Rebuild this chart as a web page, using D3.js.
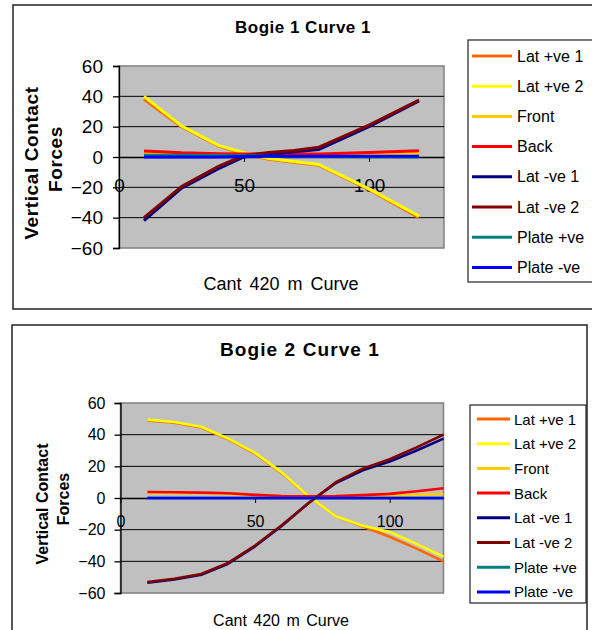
<!DOCTYPE html>
<html>
<head>
<meta charset="utf-8">
<script src="https://cdn.jsdelivr.net/npm/d3@7"></script>
<style>
  html, body { margin: 0; padding: 0; background: #fff; }
  svg { display: block; font-family: Arial, "Liberation Sans", sans-serif; }
</style>
</head>
<body>
<svg id="chart" width="592" height="630"></svg>
<script>
// ---------- data ----------
const seriesNames = ["Lat +ve 1", "Lat +ve 2", "Front", "Back", "Lat -ve 1", "Lat -ve 2", "Plate +ve", "Plate -ve"];
const seriesColors = ["#FF6600", "#FFFF00", "#FFCC00", "#FF0000", "#000080", "#800000", "#008080", "#0000FF"];
const yTicks = [-60, -40, -20, 0, 20, 40, 60];
const xTicks = [0, 50, 100];

// Bogie 1 Curve 1
const b1Title = "Bogie 1 Curve 1";
const b1X = [10, 25, 40, 50, 60, 70, 80, 100, 120];
const b1LatPos1 = [38, 20, 7, 2, -1.5, -3.5, -5.5, -21.5, -40];
const b1LatPos2 = [40, 20.5, 7.5, 2.8, -1, -3, -5, -21, -39];
const b1Front = [2.5, 2, 1.8, 1.6, 1.5, 1.5, 1.5, 2, 2.5];
const b1Back = [4, 2.8, 2.2, 2, 2, 2, 2, 3, 4.2];
const b1LatNeg1 = [-42, -20.5, -7.5, 0, 2, 3.5, 5, 20, 37];
const b1LatNeg2 = [-40, -19.5, -6, 1, 3, 4.3, 6.5, 21, 37.5];
const b1PlatePos = [1.2, 1.2, 1, 0.8, 0.5, 0.3, 0.3, 0.1, 0];
const b1PlateNeg = [0, 0, 0, 0.3, 0.5, 0.5, 0.5, 0.5, 0.5];

// Bogie 2 Curve 1
const b2Title = "Bogie 2 Curve 1";
const b2X = [10, 20, 30, 40, 50, 60, 70, 80, 90, 100, 110, 120];
const b2LatPos1 = [49, 47.5, 44.5, 37, 28, 15.5, 1, -11.5, -18, -24.5, -32, -40];
const b2LatPos2 = [49.5, 48, 45, 37.5, 28.5, 16, 1, -11.5, -17.5, -21.5, -29, -37];
const b2Front = [3, 3, 3, 2.5, 1.5, 1, 0.5, 0.5, 0.8, 1.2, 1.8, 2.5];
const b2Back = [3.8, 3.6, 3.4, 3, 2, 1.3, 1, 1.2, 1.8, 2.6, 4.3, 6.2];
const b2LatNeg1 = [-53.5, -51.5, -48.5, -41.5, -30.5, -17.5, -3, 9.5, 17.5, 23, 30, 37.5];
const b2LatNeg2 = [-53, -51, -48, -41, -30, -17, -3, 10, 18.5, 24.5, 32, 40];
const b2PlatePos = [0, 0, 0, 0, 0, 0, 0, 0, 0, 0, 0, 0];
const b2PlateNeg = [0, 0, 0, 0, 0, 0, 0, 0, 0, 0, 0, 0];

// ---------- drawing ----------
const svg = d3.select("#chart");

function drawChart(cfg) {
  const g = svg.append("g");
  // outer frame
  g.append("rect").attr("x", cfg.frame[0]).attr("y", cfg.frame[1])
    .attr("width", cfg.frame[2]).attr("height", cfg.frame[3])
    .attr("fill", "#fff").attr("stroke", "#222").attr("stroke-width", 1.5);

  const x = d3.scaleLinear().domain([0, cfg.xMax]).range([cfg.plot[0], cfg.plot[2]]);
  const y = d3.scaleLinear().domain([-60, 60]).range([cfg.plot[3], cfg.plot[1]]);

  // plot area
  g.append("rect").attr("x", cfg.plot[0]).attr("y", cfg.plot[1])
    .attr("width", cfg.plot[2] - cfg.plot[0]).attr("height", cfg.plot[3] - cfg.plot[1])
    .attr("fill", "#C0C0C0").attr("stroke", "#808080").attr("stroke-width", 1.5);

  // gridlines
  g.selectAll(".grid").data(yTicks.filter(t => t !== 60 && t !== -60 && t !== 0)).enter()
    .append("line")
    .attr("x1", cfg.plot[0]).attr("x2", cfg.plot[2])
    .attr("y1", d => y(d)).attr("y2", d => y(d))
    .attr("stroke", "#000").attr("stroke-width", 1);

  // y axis
  const yAxis = d3.axisLeft(y).tickValues(yTicks).tickSize(6).tickPadding(cfg.yPad);
  const ya = g.append("g").attr("transform", `translate(${cfg.plot[0]},0)`).call(yAxis);
  ya.select(".domain").attr("stroke", "#000").attr("stroke-width", 1.3);
  ya.selectAll(".tick line").attr("stroke", "#000").attr("stroke-width", 1.3);
  ya.selectAll("text").attr("font-size", cfg.tickFont).attr("fill", "#000")
    .attr("font-family", "Arial, 'Liberation Sans', sans-serif");

  // x axis along zero line
  const xAxis = d3.axisBottom(x).tickValues(xTicks).tickSize(5).tickPadding(cfg.xPad).tickSizeOuter(0);
  const xa = g.append("g").attr("transform", `translate(0,${y(0)})`).call(xAxis);
  xa.select(".domain").attr("stroke", "#000").attr("stroke-width", 1.3);
  xa.selectAll(".tick line").attr("stroke", "#000").attr("stroke-width", 1);
  xa.selectAll("text").attr("font-size", cfg.tickFont).attr("fill", "#000")
    .attr("font-family", "Arial, 'Liberation Sans', sans-serif");

  // series lines
  const line = d3.line().x(d => x(d[0])).y(d => y(d[1]));
  cfg.series.forEach((vals, i) => {
    const pts = cfg.xs.map((xv, j) => [xv, vals[j]]);
    g.append("path").datum(pts).attr("d", line)
      .attr("fill", "none").attr("stroke", seriesColors[i])
      .attr("stroke-width", cfg.lineW).attr("stroke-linejoin", "round");
  });

  // title
  g.append("text").attr("x", cfg.titlePos[0]).attr("y", cfg.titlePos[1])
    .attr("text-anchor", "middle").attr("font-weight", "bold")
    .attr("font-size", cfg.titleFont).attr("letter-spacing", cfg.titleLS)
    .text(cfg.title);

  // y title (two lines)
  g.append("text").attr("font-weight", "bold").attr("font-size", cfg.yTitleFont)
    .attr("letter-spacing", cfg.yTitleLS).attr("text-anchor", "middle")
    .attr("dominant-baseline", "central")
    .attr("transform", `translate(${cfg.yTitle1[0]},${cfg.yTitle1[1]}) rotate(-90)`)
    .text("Vertical Contact");
  g.append("text").attr("font-weight", "bold").attr("font-size", cfg.yTitleFont)
    .attr("letter-spacing", cfg.yTitleLS).attr("text-anchor", "middle")
    .attr("dominant-baseline", "central")
    .attr("transform", `translate(${cfg.yTitle2[0]},${cfg.yTitle2[1]}) rotate(-90)`)
    .text("Forces");

  // x title
  g.append("text").attr("x", cfg.xTitlePos[0]).attr("y", cfg.xTitlePos[1])
    .attr("text-anchor", "middle").attr("font-size", cfg.xTitleFont)
    .attr("word-spacing", cfg.xTitleWS)
    .text("Cant 420 m Curve");

  // legend
  g.append("rect").attr("x", cfg.legBox[0]).attr("y", cfg.legBox[1])
    .attr("width", cfg.legBox[2]).attr("height", cfg.legBox[3])
    .attr("fill", "#fff").attr("stroke", "#222").attr("stroke-width", 1.2);
  const leg = g.selectAll(".leg").data(seriesNames).enter().append("g")
    .attr("transform", (d, i) => `translate(0,${cfg.legY0 + i * cfg.legStep})`);
  leg.append("line").attr("x1", cfg.legLine[0]).attr("x2", cfg.legLine[1])
    .attr("y1", 0).attr("y2", 0)
    .attr("stroke", (d, i) => seriesColors[i]).attr("stroke-width", 3);
  leg.append("text").attr("x", cfg.legText).attr("y", 0)
    .attr("dominant-baseline", "central").attr("font-size", cfg.legFont)
    .text(d => d);
}

drawChart({
  frame: [13, 5, 600, 304],
  plot: [119, 66, 444, 248],
  xMax: 130,
  xs: b1X,
  series: [b1LatPos1, b1LatPos2, b1Front, b1Back, b1LatNeg1, b1LatNeg2, b1PlatePos, b1PlateNeg],
  title: b1Title, titlePos: [303, 33], titleFont: 17, titleLS: 0.5,
  tickFont: 19, yPad: 10, xPad: 17,
  lineW: 3,
  yTitle1: [31, 163], yTitle2: [55, 159], yTitleFont: 19, yTitleLS: 0.6,
  xTitlePos: [281, 290], xTitleFont: 18, xTitleWS: 3,
  legBox: [468, 40, 140, 242], legY0: 56, legStep: 30.2, legLine: [472, 512], legText: 517, legFont: 16
});

drawChart({
  frame: [12, 325, 575, 320],
  plot: [120.5, 403, 443.5, 593],
  xMax: 120,
  xs: b2X,
  series: [b2LatPos1, b2LatPos2, b2Front, b2Back, b2LatNeg1, b2LatNeg2, b2PlatePos, b2PlateNeg],
  title: b2Title, titlePos: [300, 356], titleFont: 19, titleLS: 1.1,
  tickFont: 16, yPad: 9, xPad: 13,
  lineW: 2.6,
  yTitle1: [42, 504], yTitle2: [63, 499], yTitleFont: 16, yTitleLS: 0,
  xTitlePos: [281, 626], xTitleFont: 16, xTitleWS: 2,
  legBox: [470, 405, 116, 198], legY0: 419, legStep: 24.7, legLine: [477, 510], legText: 514, legFont: 15
});
</script>
</body>
</html>
